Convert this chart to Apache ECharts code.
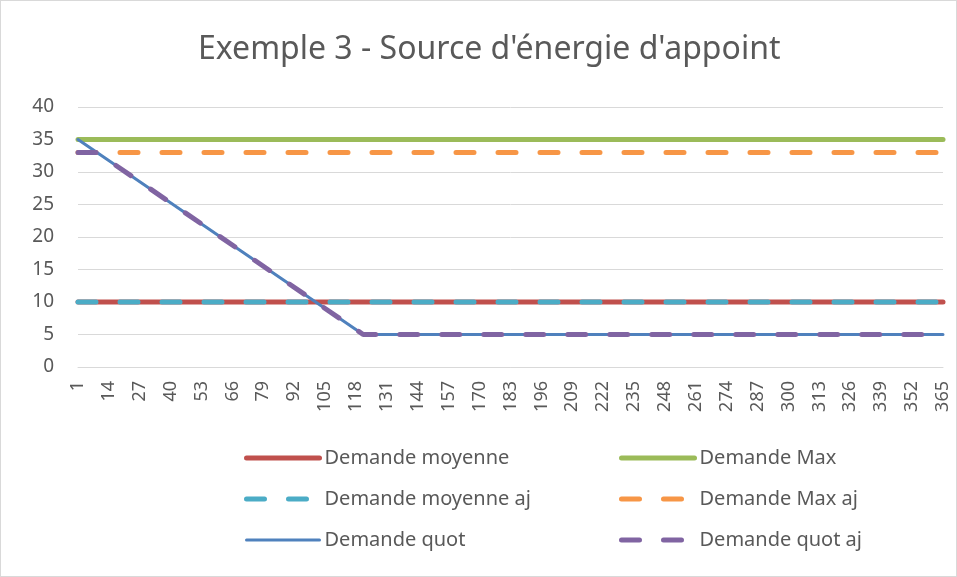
<!DOCTYPE html>
<html>
<head>
<meta charset="utf-8">
<script src="https://cdn.jsdelivr.net/npm/echarts@6/dist/echarts.min.js"></script>
<style>
  html, body { margin: 0; padding: 0; background: #fff; }
  #chart { width: 955px; height: 575px; border: 1px solid #d9d9d9; }
</style>
</head>
<body>
<div id="chart"></div>
<script>
// jours 1..365
var days = [];
for (var d = 1; d <= 365; d++) days.push(String(d));

// points [jour, valeur]
var demandeMoyenne = [["1", 10], ["365", 10]];
var demandeMax = [["1", 35], ["365", 35]];
var demandeMoyenneAj = [["1", 10], ["365", 10]];
var demandeMaxAj = [["1", 33], ["365", 33]];
var demandeQuot = [["1", 35], ["121", 5], ["365", 5]];
var demandeQuotAj = [["1", 33], ["9", 33], ["121", 5], ["365", 5]];

var txt = "#595959";
var font = "Noto Sans";
var dash = [18, 24];

var colors = {
  "Demande moyenne": "#C0504D",
  "Demande Max": "#9BBB59",
  "Demande moyenne aj": "#4BACC6",
  "Demande Max aj": "#F79646",
  "Demande quot": "#4F81BD",
  "Demande quot aj": "#8064A2"
};
var widths = {
  "Demande moyenne": 5,
  "Demande Max": 5,
  "Demande moyenne aj": 5,
  "Demande Max aj": 5,
  "Demande quot": 3,
  "Demande quot aj": 5
};
var dashed = {
  "Demande moyenne aj": true,
  "Demande Max aj": true,
  "Demande quot aj": true
};

function style(name) {
  return {
    color: colors[name],
    width: widths[name],
    type: dashed[name] ? dash : "solid",
    cap: "round"
  };
}

function serie(name, data) {
  return {
    name: name,
    type: "line",
    data: data,
    symbol: "none",
    animation: false,
    lineStyle: style(name),
    itemStyle: { color: colors[name] }
  };
}

function legendItem(name) {
  return { name: name, lineStyle: style(name), itemStyle: { opacity: 0 } };
}

function legendCol(left, names) {
  return {
    orient: "vertical",
    left: left,
    top: 447,
    padding: 0,
    itemWidth: 73,
    itemHeight: 20,
    itemGap: 21,
    itemStyle: { opacity: 0 },
    textStyle: { color: txt, fontFamily: font, fontSize: 20, lineHeight: 20 },
    data: names.map(legendItem)
  };
}

var chart = echarts.init(document.getElementById("chart"));
chart.setOption({
  animation: false,
  title: {
    text: "Exemple 3 - Source d'énergie d'appoint",
    left: 197,
    top: 33,
    padding: 0,
    textStyle: { color: txt, fontFamily: font, fontSize: 32, fontWeight: "normal" }
  },
  grid: { left: 77, right: 13, top: 106, bottom: 209, containLabel: false },
  legend: [
    legendCol(243, ["Demande moyenne", "Demande moyenne aj", "Demande quot"]),
    legendCol(618, ["Demande Max", "Demande Max aj", "Demande quot aj"])
  ],
  xAxis: {
    type: "category",
    data: days,
    boundaryGap: false,
    axisLine: { lineStyle: { color: "#d9d9d9" } },
    axisTick: { show: false },
    axisLabel: {
      interval: 12,
      rotate: 90,
      color: txt,
      fontFamily: font,
      fontSize: 18,
      margin: 14
    }
  },
  yAxis: {
    type: "value",
    min: 0,
    max: 40,
    interval: 5,
    axisLine: { show: false },
    axisTick: { show: false },
    splitLine: { lineStyle: { color: "#d9d9d9", width: 1 } },
    axisLabel: { color: txt, fontFamily: font, fontSize: 19, margin: 24 }
  },
  series: [
    serie("Demande moyenne", demandeMoyenne),
    serie("Demande Max", demandeMax),
    serie("Demande moyenne aj", demandeMoyenneAj),
    serie("Demande Max aj", demandeMaxAj),
    serie("Demande quot", demandeQuot),
    serie("Demande quot aj", demandeQuotAj)
  ]
});
</script>
</body>
</html>
